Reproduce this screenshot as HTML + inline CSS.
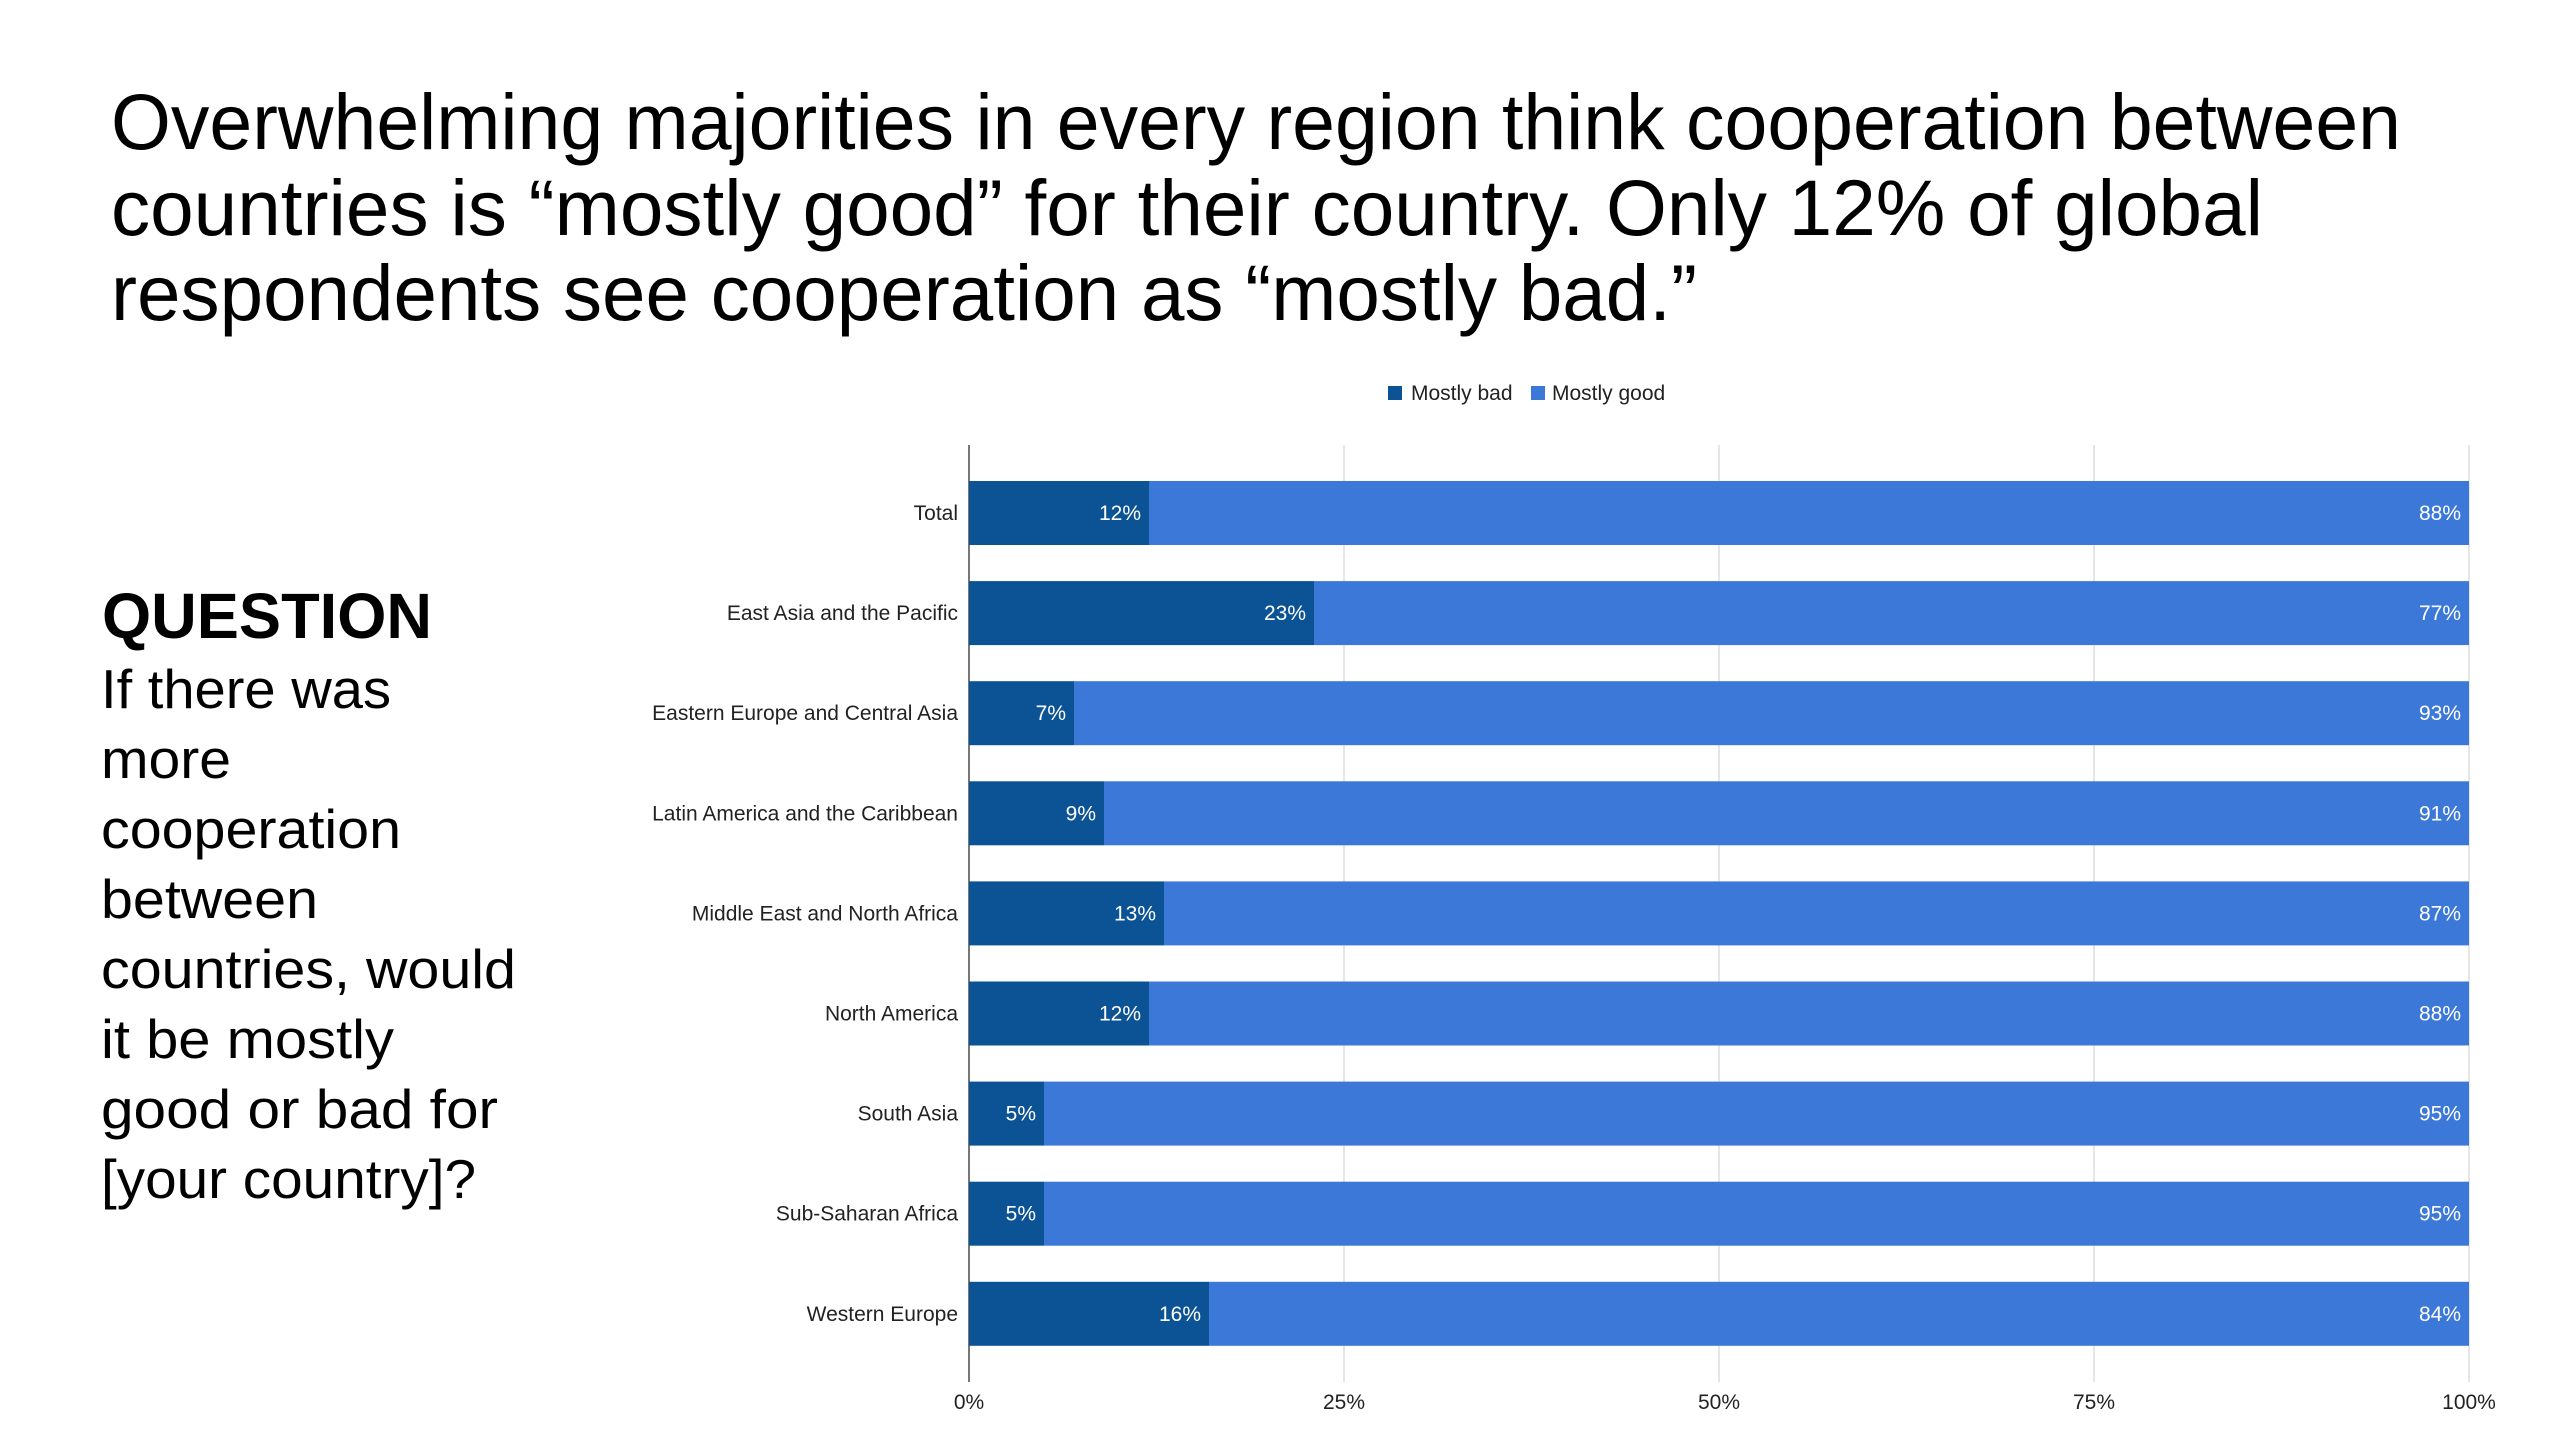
<!DOCTYPE html>
<html><head><meta charset="utf-8"><style>
html,body{margin:0;padding:0;background:#fff;}
svg{display:block;font-family:"Liberation Sans",Arial,sans-serif;}
</style></head><body>
<svg id="page" width="2560" height="1440" viewBox="0 0 2560 1440" xmlns="http://www.w3.org/2000/svg">
<g font-size="79" fill="#000">
<text x="111" y="149" textLength="2290" lengthAdjust="spacingAndGlyphs">Overwhelming majorities in every region think cooperation between</text>
<text x="111" y="235" textLength="2152" lengthAdjust="spacingAndGlyphs">countries is “mostly good” for their country. Only 12% of global</text>
<text x="111" y="320" textLength="1586" lengthAdjust="spacingAndGlyphs">respondents see cooperation as “mostly bad.”</text>
</g>
<g fill="#000">
<text x="102" y="638" font-size="64" font-weight="bold" textLength="330" lengthAdjust="spacingAndGlyphs">QUESTION</text>
<g font-size="55">
<text x="101" y="708" textLength="290" lengthAdjust="spacingAndGlyphs">If there was</text>
<text x="101" y="778" textLength="130" lengthAdjust="spacingAndGlyphs">more</text>
<text x="101" y="848" textLength="300" lengthAdjust="spacingAndGlyphs">cooperation</text>
<text x="101" y="918" textLength="217" lengthAdjust="spacingAndGlyphs">between</text>
<text x="101" y="988" textLength="415" lengthAdjust="spacingAndGlyphs">countries, would</text>
<text x="101" y="1058" textLength="293" lengthAdjust="spacingAndGlyphs">it be mostly</text>
<text x="101" y="1128" textLength="397" lengthAdjust="spacingAndGlyphs">good or bad for</text>
<text x="101" y="1198" textLength="375" lengthAdjust="spacingAndGlyphs">[your country]?</text>
</g>
</g>
<g font-size="21" fill="#222">
<g>
<rect x="1388" y="386" width="14" height="14" fill="#0b5394"/>
<text x="1411" y="400">Mostly bad</text></g>
<g>
<rect x="1531" y="386" width="14" height="14" fill="#3c78d8"/>
<text x="1552" y="400">Mostly good</text></g>
</g>
<g id="chart"></g>
</svg>
<script>
const categories = ["Total","East Asia and the Pacific","Eastern Europe and Central Asia","Latin America and the Caribbean","Middle East and North Africa","North America","South Asia","Sub-Saharan Africa","Western Europe"];
const mostlyBad = [12,23,7,9,13,12,5,5,16];
const mostlyGood = [88,77,93,91,87,88,95,95,84];
const xTicks = [0,25,50,75,100];

const NS = "http://www.w3.org/2000/svg";
const chart = document.getElementById('chart');
const X0 = 969, X1 = 2469, TOP = 445, BOTTOM = 1382;
const firstCenter = 513, step = 100.1, barH = 64;
function xScale(v){ return X0 + (X1 - X0) * v / 100; }
function yCenter(i){ return firstCenter + i * step; }
function mk(tag, attrs, parent){ const e = document.createElementNS(NS, tag); for (const k in attrs) e.setAttribute(k, attrs[k]); (parent||chart).appendChild(e); return e; }

xTicks.forEach(function(t){
  const x = xScale(t);
  const g = mk('line', {x1:x, x2:x, y1:TOP, y2:BOTTOM, stroke: t===0 ? '#555' : '#d9d9d9', 'stroke-width': t===0 ? 1.6 : 1.3});
  
  
  const lbl = mk('text', {x:x, y:1409, 'text-anchor':'middle', 'font-size':21, fill:'#222'});
  lbl.textContent = t + '%';
  
  
});

categories.forEach(function(c, i){
  const yc = yCenter(i);
  const y = yc - barH/2;
  const cl = mk('text', {x:958, y:yc+7, 'text-anchor':'end', 'font-size':21, fill:'#222'});
  cl.textContent = c;
  
  
  const xb = xScale(mostlyBad[i]);
  const xg = xScale(mostlyBad[i] + mostlyGood[i]);
  const rb = mk('rect', {x:X0, y:y, width:xb - X0, height:barH, fill:'#0b5394'});
  
  
  const rg = mk('rect', {x:xb, y:y, width:xg - xb, height:barH, fill:'#3c78d8'});
  
  
  const lb = mk('text', {x:xb - 8, y:yc+7, 'text-anchor':'end', 'font-size':21, fill:'#fff'});
  lb.textContent = mostlyBad[i] + '%';
  
  
  const lg = mk('text', {x:xg - 8, y:yc+7, 'text-anchor':'end', 'font-size':21, fill:'#fff'});
  lg.textContent = mostlyGood[i] + '%';
  
  
});
</script>
</body></html>
